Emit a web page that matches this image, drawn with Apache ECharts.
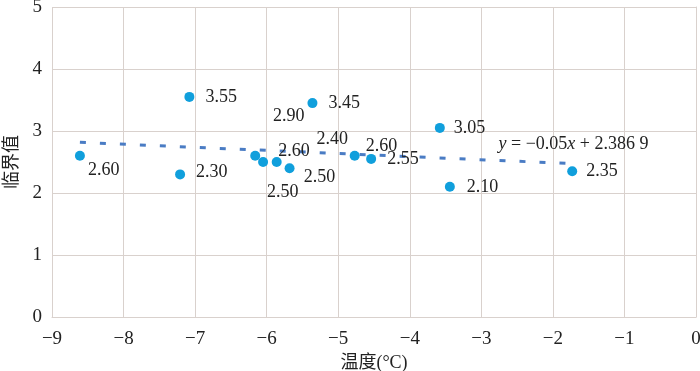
<!doctype html>
<html>
    <head>
        <meta charset="utf-8">
        <title>临界值 - 温度</title>
        <style>
            html, body { margin: 0; padding: 0; background: #fff; }
            #main { width: 700px; height: 371px; }
        </style>
    </head>
    <body>
        <div id="main"></div>
        <script src="https://cdn.jsdelivr.net/npm/echarts@6/dist/echarts.min.js"></script>
        <script>
            var chart = echarts.init(document.getElementById('main'));

            // temperature (°C) and critical value per sample
            var temps  = [-8.61, -7.08, -7.21, -6.16, -6.05, -5.86, -5.68, -5.36, -4.77, -4.54, -3.58, -3.44, -1.73];
            var values = [2.60, 3.55, 2.30, 2.60, 2.50, 2.50, 2.40, 3.45, 2.60, 2.55, 3.05, 2.10, 2.35];

            // linear trend y = a x + b as printed on the chart
            var trendSlope = -0.05;
            var trendIntercept = 2.3869;
            var trendText = '{i|y} = −0.05{i|x} + 2.386 9';

            // extra free-standing data label in the figure
            var strayLabel = '2.90';

            var xTicks = [-9, 0];
            var yTicks = [0, 5];

            // label offsets (px) so the labels sit where the figure has them
            var labelOffsets = [
                [-2, 14], [6, 0], [6, -2], [13, -5], [-6, 30], [17, 15], [17, -29],
                [6, 0], [1, -10], [6, 0], [4, 0], [7, 0], [4, 0]
            ];

            var serif = 'Liberation Serif, Times New Roman, Noto Sans CJK SC, serif';
            var gridColor = '#d9d1cd';
            var textColor = '#222';

            var points = temps.map(function (t, i) {
                return {
                    value: [t, values[i]],
                    label: { offset: labelOffsets[i] }
                };
            });

            var xMin = Math.min.apply(null, temps);
            var xMax = Math.max.apply(null, temps);
            var trend = [xMin, xMax].map(function (x) {
                return [x, trendSlope * x + trendIntercept];
            });

            function minus(v) {
                return String(v).replace('-', '−');
            }

            chart.setOption({
                animation: false,
                textStyle: { fontFamily: serif },
                grid: { left: 52, right: 4, top: 7, bottom: 54, outerBoundsMode: 'none' },
                xAxis: {
                    type: 'value',
                    min: xTicks[0],
                    max: xTicks[1],
                    interval: 1,
                    name: '温度(°C)',
                    nameLocation: 'middle',
                    nameGap: 29,
                    nameTextStyle: { fontSize: 18, color: textColor, fontFamily: serif },
                    axisLine: { lineStyle: { color: gridColor } },
                    axisTick: { show: false },
                    splitLine: { lineStyle: { color: gridColor } },
                    axisLabel: {
                        fontSize: 19, color: textColor, margin: 13, fontFamily: serif,
                        formatter: minus
                    }
                },
                yAxis: {
                    type: 'value',
                    min: yTicks[0],
                    max: yTicks[1],
                    interval: 1,
                    name: '临界值',
                    nameLocation: 'middle',
                    nameRotate: 90,
                    nameGap: 29,
                    nameTextStyle: { fontSize: 18, color: textColor, fontFamily: serif },
                    axisLine: { show: true, lineStyle: { color: gridColor } },
                    axisTick: { show: false },
                    splitLine: { lineStyle: { color: gridColor } },
                    axisLabel: { fontSize: 19, color: textColor, margin: 10, fontFamily: serif }
                },
                series: [{
                    type: 'line',
                    data: trend,
                    symbol: 'none',
                    silent: true,
                    lineStyle: { color: '#4a7cc4', width: 3, type: [6, 14] },
                    z: 1
                }, {
                    type: 'scatter',
                    data: points,
                    symbolSize: 10,
                    itemStyle: { color: '#109fdc', opacity: 1 },
                    label: {
                        show: true,
                        position: 'right',
                        distance: 5,
                        fontSize: 18,
                        color: textColor,
                        fontFamily: serif,
                        formatter: function (p) { return p.value[1].toFixed(2); }
                    },
                    z: 2
                }]
            });

            var eqPos = chart.convertToPixel({ gridIndex: 0 }, [-2.76, 2.79]);
            var strayPos = chart.convertToPixel({ gridIndex: 0 }, [-5.91, 3.23]);

            chart.setOption({
                graphic: [{
                    type: 'text',
                    x: eqPos[0],
                    y: eqPos[1],
                    style: {
                        text: trendText,
                        fontSize: 18,
                        fontFamily: serif,
                        fill: textColor,
                        verticalAlign: 'middle',
                        rich: {
                            i: { fontStyle: 'italic', fontSize: 18, fontFamily: serif, fill: textColor }
                        }
                    }
                }, {
                    type: 'text',
                    x: strayPos[0],
                    y: strayPos[1],
                    style: {
                        text: strayLabel,
                        fontSize: 18,
                        fontFamily: serif,
                        fill: textColor,
                        verticalAlign: 'middle'
                    }
                }]
            });
        </script>
    </body>
</html>
